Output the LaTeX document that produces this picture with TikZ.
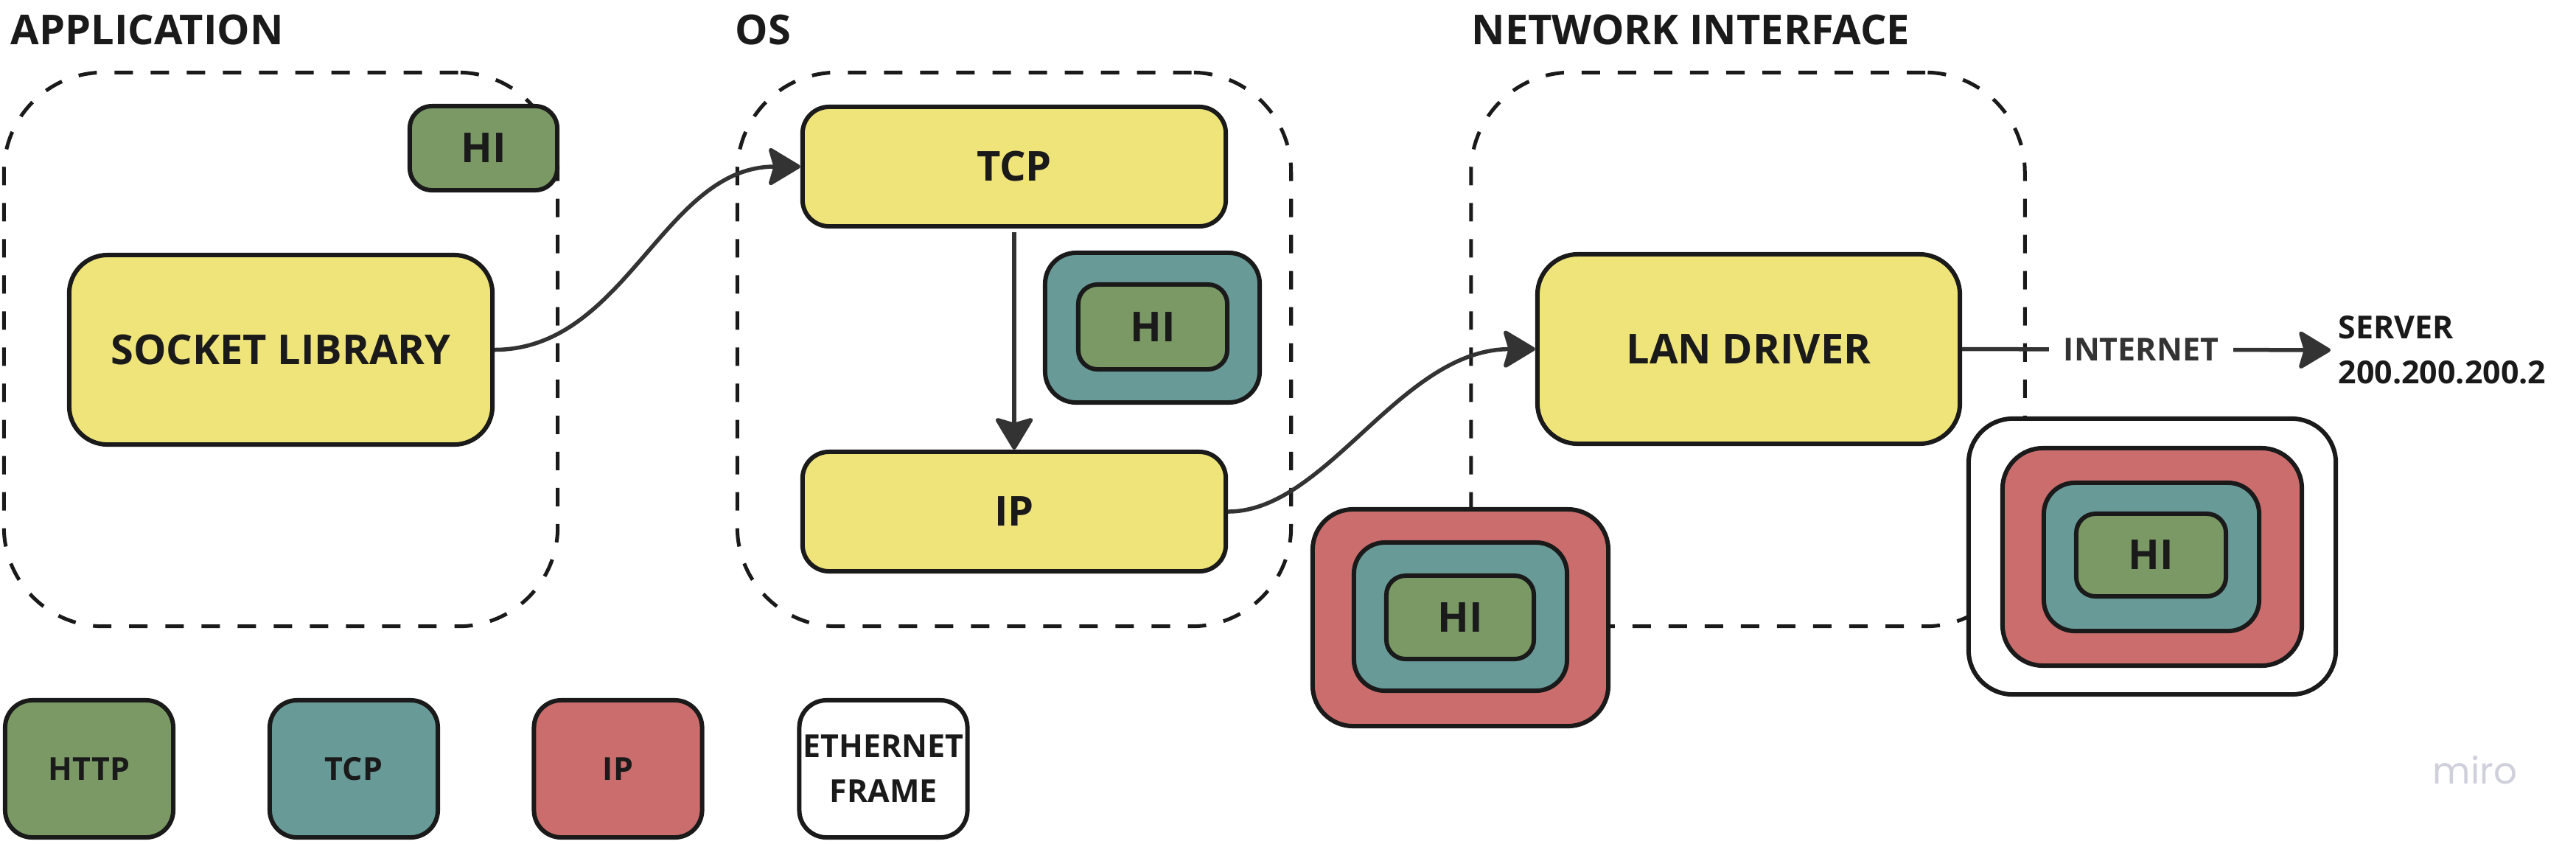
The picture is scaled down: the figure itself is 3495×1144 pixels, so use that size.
\documentclass[tikz,border=0pt]{standalone}
\usepackage{fontspec}
\setmainfont{Open Sans}
\newfontfamily\mirofont{Poppins}
\usetikzlibrary{arrows.meta}
\definecolor{ylw}{HTML}{EFE47A}
\definecolor{grn}{HTML}{7A9965}
\definecolor{tea}{HTML}{689A98}
\definecolor{rdd}{HTML}{CB6D6D}
\definecolor{bordc}{HTML}{1A1A1A}
\definecolor{txtc}{HTML}{1A1A1A}
\definecolor{arrc}{HTML}{333333}
\definecolor{miroc}{HTML}{D0D0DC}
\begin{document}
\begin{tikzpicture}[x=0.01cm,y=-0.01cm,
  bigtxt/.style={font=\fontsize{15.9}{19}\selectfont\bfseries, text=txtc},
  smalltxt/.style={font=\fontsize{12.2}{17.4}\selectfont\bfseries, text=txtc},
  box/.style={draw=bordc, line width=0.06cm, inner sep=0, align=center},
  dbox/.style={draw=bordc, line width=0.05cm, dash pattern=on 0.25cm off 0.24cm, rounded corners=1.35cm, inner sep=0, minimum width=7.51cm, minimum height=7.51cm},
  arr/.style={draw=arrc, line width=0.055cm, -{Stealth[length=0.47cm,width=0.56cm,inset=0.08cm,round]}},
]
\useasboundingbox (0,0) rectangle (3495,1144);

% titles
\node[bigtxt, anchor=base west, inner sep=0] (tapp) at (14,60) {APPLICATION};
\node[bigtxt, anchor=base west, inner sep=0] (tos) at (997,60) {OS};
\node[bigtxt, anchor=base west, inner sep=0] (tni) at (1996,60) {NETWORK INTERFACE};

% dashed group boxes
\node[dbox] (app) at (381,474) {};
\node[dbox] (os) at (1376,474) {};
\node[dbox] (ni) at (2371.5,474) {};

% application
\node[box, bigtxt, fill=ylw, rounded corners=0.52cm, minimum width=5.74cm, minimum height=2.57cm] (sock) at (381,474.5) {SOCKET LIBRARY};
\node[box, bigtxt, fill=grn, rounded corners=0.3cm, minimum width=2.0cm, minimum height=1.14cm] (apphi) at (656,201) {HI};

% OS
\node[box, bigtxt, fill=ylw, rounded corners=0.36cm, minimum width=5.74cm, minimum height=1.62cm] (tcp) at (1376,226) {TCP};
\node[box, bigtxt, fill=ylw, rounded corners=0.36cm, minimum width=5.74cm, minimum height=1.62cm] (ip) at (1376,694) {IP};
\node[box, fill=tea, rounded corners=0.42cm, minimum width=2.91cm, minimum height=2.03cm] (tcpt) at (1563.5,444.5) {};
\node[box, bigtxt, fill=grn, rounded corners=0.26cm, minimum width=2.02cm, minimum height=1.15cm] (tcpg) at (1564,443.5) {HI};

% network interface
\node[box, bigtxt, fill=ylw, rounded corners=0.55cm, minimum width=5.73cm, minimum height=2.57cm] (lan) at (2372.5,473.5) {LAN DRIVER};
\node[box, fill=rdd, rounded corners=0.55cm, minimum width=4.01cm, minimum height=2.94cm] (red1) at (1981.5,838) {};
\node[box, fill=tea, rounded corners=0.42cm, minimum width=2.89cm, minimum height=2.01cm] (tea1) at (1981.5,836.5) {};
\node[box, bigtxt, fill=grn, rounded corners=0.26cm, minimum width=2.0cm, minimum height=1.13cm] (grn1) at (1981,837.5) {HI};

\node[box, fill=white, rounded corners=0.6cm, minimum width=4.98cm, minimum height=3.74cm] (eth) at (2920,755) {};
\node[box, fill=rdd, rounded corners=0.55cm, minimum width=4.06cm, minimum height=2.95cm] (red2) at (2920,755.5) {};
\node[box, fill=tea, rounded corners=0.42cm, minimum width=2.92cm, minimum height=2.01cm] (tea2) at (2919,755.5) {};
\node[box, bigtxt, fill=grn, rounded corners=0.26cm, minimum width=2.03cm, minimum height=1.12cm] (grn2) at (2918.5,753) {HI};

% server
\node[smalltxt, anchor=west, align=left, inner sep=0] (server) at (3172,475) {SERVER\\200.200.200.2};

% connectors
\draw[arr] (sock.east) .. controls (850,474) and (900,226) .. (tcp.west);
\draw[arr, shorten <=0.05cm] (tcp.south) -- (ip.north);
\draw[arr] (ip.east) .. controls (1800,694) and (1900,474) .. (lan.west);
\draw[arr, shorten >=0.1cm] (lan.east) -- node[pos=0.476, fill=white, smalltxt, text=arrc, inner xsep=0.2cm, inner ysep=0.05cm] (inet) {INTERNET} (server.west);

% legend
\node[box, smalltxt, fill=grn, rounded corners=0.37cm, minimum width=2.28cm, minimum height=1.86cm] (lhttp) at (121,1043) {HTTP};
\node[box, smalltxt, fill=tea, rounded corners=0.37cm, minimum width=2.28cm, minimum height=1.86cm] (ltcp) at (480,1043) {TCP};
\node[box, smalltxt, fill=rdd, rounded corners=0.37cm, minimum width=2.28cm, minimum height=1.86cm] (lip) at (838.5,1043) {IP};
\node[box, smalltxt, fill=white, rounded corners=0.37cm, minimum width=2.28cm, minimum height=1.86cm] (leth) at (1198.5,1043) {ETHERNET\\FRAME};

% watermark
\node[font=\mirofont\fontsize{14.2}{16}\selectfont, text=miroc, inner sep=0] (miro) at (3358,1045) {miro};
\end{tikzpicture}
\end{document}
